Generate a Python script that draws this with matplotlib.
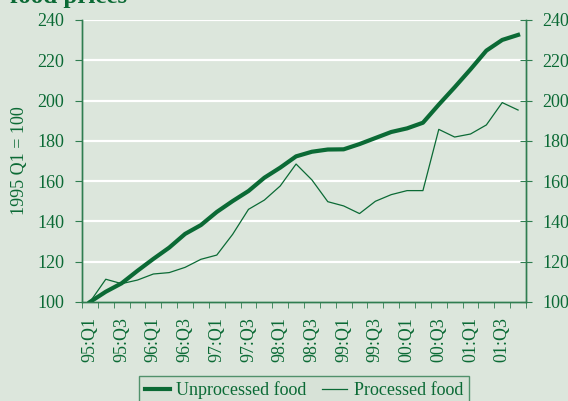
import matplotlib.pyplot as plt
import numpy as np

# quarters 95:Q1 .. 01:Q4
quarters = [f"{y:02d}:Q{q}" for y in [95, 96, 97, 98, 99, 0, 1] for q in range(1, 5)]

unprocessed = [100.0, 105.1, 109.3, 115.5, 121.4, 127.0, 133.8, 138.2, 144.7, 150.1,
               155.1, 161.7, 166.7, 172.3, 174.6, 175.7, 175.8, 178.4, 181.4, 184.4,
               186.2, 189.0, 198.0, 206.6, 215.5, 224.8, 230.1, 232.6]
processed = [100.0, 111.3, 109.1, 110.9, 113.9, 114.6, 117.2, 121.2, 123.3, 133.6,
             146.0, 150.6, 157.6, 168.5, 160.6, 149.8, 147.7, 143.9, 150.0, 153.3,
             155.3, 155.3, 185.7, 181.9, 183.4, 187.9, 199.0, 195.3]

yticks = [100, 120, 140, 160, 180, 200, 220, 240]

BG = "#dce6dc"
GREEN = "#0b6a35"
AXC = "#2f7d50"

plt.rcParams["font.family"] = ["Liberation Serif", "DejaVu Serif"]
plt.rcParams["font.size"] = 13

fig = plt.figure(figsize=(5.68, 4.01), dpi=100, facecolor=BG)
ax = fig.add_axes([82 / 568, 1 - 302 / 401, 444 / 568, 282 / 401], facecolor=BG)

x = np.arange(len(quarters))
ax.plot(x, unprocessed, color=GREEN, lw=3.0, solid_joinstyle="round", label="Unprocessed food", zorder=3)
ax.plot(x, processed, color=GREEN, lw=0.9, label="Processed food", zorder=3)

ax.set_xlim(-0.5, len(quarters) - 0.5)
ax.set_ylim(100, 240)

for v in yticks[1:]:
    ax.axhline(v, color="white", lw=1.6, zorder=1)

ax.set_yticks(yticks)
ax.tick_params(axis="y", which="major", direction="out", length=5, color=AXC,
               labelcolor=GREEN, labelsize=13, pad=8)

ax2 = ax.twinx()
ax2.set_ylim(100, 240)
ax2.set_yticks(yticks)
ax2.tick_params(axis="y", direction="inout", length=9, color=AXC,
                labelcolor=GREEN, labelsize=13, pad=7)

ax.set_xticks(x[::2])
ax.set_xticklabels(quarters[::2], rotation=90)
ax.set_xticks(np.arange(len(quarters) + 1) - 0.5, minor=True)
ax.tick_params(axis="x", which="major", length=0, labelcolor=GREEN, labelsize=13, pad=11)
ax.tick_params(axis="x", which="minor", direction="out", length=4, color=AXC)

for a in (ax, ax2):
    for s in a.spines.values():
        s.set_color(AXC)
        s.set_linewidth(1.0)
    a.spines["top"].set_visible(False)

ax.set_ylabel("1995 Q1 = 100", color=GREEN, fontsize=13)
ax.yaxis.set_label_coords((28 - 82) / 444, 0.5)

fig.text(10 / 568, 1 - 2.5 / 401, "food prices", fontsize=18, fontweight="bold",
         color=GREEN, va="baseline", ha="left")

leg = fig.legend(loc="upper center", bbox_to_anchor=(304 / 568, 1 - 376 / 401), ncol=2,
                 frameon=True, fancybox=False, fontsize=13, handlelength=1.4,
                 handletextpad=0.35, columnspacing=0.85, borderpad=0.3, borderaxespad=0)
leg.get_frame().set_edgecolor(AXC)
leg.get_frame().set_facecolor("#d6e2d6")
leg.get_frame().set_linewidth(1.0)
for t in leg.get_texts():
    t.set_color(GREEN)

fig.savefig("out.png", dpi=100, facecolor=BG)
